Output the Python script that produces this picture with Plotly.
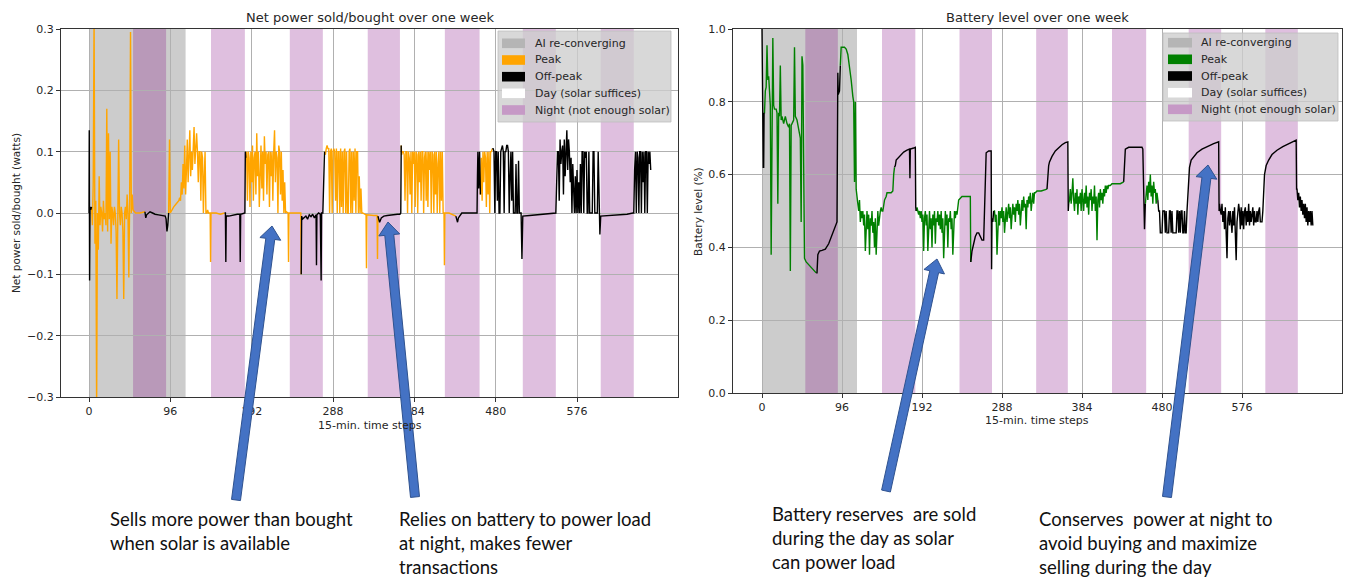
import math
import plotly.graph_objects as go

W, H = 1348, 580

# ------------------------------------------------------------------ data
TICK_STEPS = [0, 96, 192, 288, 384, 480, 576]
POWER_TICKS = [-0.3, -0.2, -0.1, 0.0, 0.1, 0.2, 0.3]
BATTERY_TICKS = [0.0, 0.2, 0.4, 0.6, 0.8, 1.0]

AI_PERIOD = (0, 114)
NIGHT_START = [52, 144, 237, 329, 420, 512, 604]
NIGHT_END = [91, 184, 276, 367, 461, 551, 643]

LEGEND_LABELS = ["AI re-converging", "Peak", "Off-peak", "Day (solar suffices)", "Night (not enough solar)"]


def run(start, vals):
    """values read at consecutive 15-min steps starting at `start`"""
    return list(range(start, start + len(vals))), vals


# ---- net power sold/bought (watts)
P01 = ([0, 0.3, 0.7, 1.2, 2, 3], [0.0, 0.135, -0.11, 0.01, 0.005, 0.01])
P02 = run(4, [-0.02, 0.05, 0.32, -0.05, 0.02, -0.32, 0.0, -0.06, 0.06, -0.02, 0.01, 0.0, -0.03, 0.02, -0.01,
              0.0, -0.02, 0.17, -0.03, 0.13, -0.01, 0.1, -0.05, 0.01, 0.0, -0.02, 0.01, 0.0, -0.03, -0.14,
              0.0, 0.12, 0.0, -0.02, 0.01, 0.0, -0.03, -0.14, 0.0, 0.01, -0.01, 0.03, 0.0, -0.105, 0.02,
              0.295, 0.0, 0.03, 0.005])
P03 = ([55, 60, 66], [0.0, 0.0, 0.002])
P04 = ([67, 68, 70, 72, 75, 78, 82, 86, 90, 91, 92, 93, 94],
       [-0.008, -0.003, 0.0, 0.002, 0.0, -0.002, -0.003, -0.004, -0.005, -0.01, -0.03, -0.02, 0.0])
P05 = ([95, 96, 98, 100, 103, 106, 107], [0.12, 0.0, 0.005, 0.01, 0.015, 0.02, 0.025])
P06 = run(108, [0.02, 0.05, 0.03, 0.08, 0.04, 0.11, 0.03, 0.07, 0.12, 0.05, 0.09, 0.135, 0.06, 0.1, 0.07,
                0.11, 0.14, 0.08, 0.1, 0.13, 0.1, 0.05, 0.1, 0.1, 0.02, 0.1, 0.09, 0.0, 0.06, 0.1, 0.0,
                0.0, 0.005])
P07 = ([141, 143, 143.5, 144, 150, 155, 160], [0.0, 0.0, -0.08, 0.0, 0.0, -0.002, 0.0])
P08 = ([161, 161.5, 162, 165, 170, 175, 178, 178.5, 179, 183, 184, 184.5, 185],
       [0.0, -0.08, -0.005, -0.005, -0.003, -0.002, -0.002, -0.08, -0.002, 0.0, 0.0, 0.1, 0.09])
P09 = run(186, [0.1, 0.02, 0.1, 0.09, 0.01, 0.1, 0.05, 0.11, 0.02, 0.09, 0.1, 0.03, 0.13, 0.06, 0.1, 0.01,
                0.09, 0.11, 0.04, 0.1, 0.02, 0.125, 0.08, 0.1, 0.03, 0.095, 0.1, 0.01, 0.1, 0.06, 0.1,
                0.02, 0.1, 0.135, 0.05, 0.1, 0.09, 0.0, 0.11, 0.1, 0.03, 0.1, 0.02, 0.07, 0.0, 0.05, 0.0,
                0.002])
P10 = ([235, 235.5, 236, 244, 250, 250.5], [0.0, -0.08, 0.0, 0.0, 0.0, -0.1])
P11 = ([251, 252, 254, 256, 258, 260, 262, 264, 266, 268, 268.5, 269, 271, 273, 274, 274.5, 276, 277, 278],
       [-0.005, -0.01, -0.008, -0.005, -0.01, -0.003, -0.006, -0.002, -0.008, -0.003, -0.085, -0.003,
        0.0, -0.002, -0.11, 0.0, 0.0, 0.05, 0.1])
P12 = run(279, [0.095, 0.105, 0.11, 0.105, 0.105, 0.0, 0.1, 0.105, 0.0, 0.1, 0.105, 0.1, 0.02, 0.105, 0.0,
                0.1, 0.1, 0.0, 0.105, 0.01, 0.1, 0.0, 0.1, 0.105, 0.0, 0.1, 0.0, 0.0, 0.1, 0.105, 0.0,
                0.1, 0.0, 0.1, 0.02, 0.105, 0.0, 0.1, 0.1, 0.0, 0.06, 0.0, 0.04, 0.0])
P13 = ([323, 327, 327.5, 328, 332, 336, 340, 340.5, 341],
       [0.0, -0.003, -0.09, -0.003, -0.004, -0.004, -0.004, -0.075, -0.005])
P14 = ([342, 343, 345, 348, 352, 356, 360, 364, 367, 368, 368.5],
       [-0.01, -0.015, -0.008, -0.005, -0.004, -0.003, -0.003, -0.002, -0.002, 0.0, 0.11])
P15 = run(369, [0.095, 0.1, 0.1, 0.095, 0.02, 0.1, 0.1, 0.0, 0.1, 0.09, 0.03, 0.1, 0.0, 0.1, 0.08, 0.1,
                0.01, 0.1, 0.095, 0.0, 0.1, 0.05, 0.1, 0.02, 0.1, 0.1, 0.0, 0.09, 0.1, 0.02, 0.1, 0.01,
                0.1, 0.07, 0.1, 0.0, 0.1, 0.095, 0.0, 0.1, 0.03, 0.1, 0.0, 0.08, 0.1, 0.0, 0.1, 0.02,
                0.1, 0.0, 0.0])
P16 = ([419.5, 420, 425, 430, 433], [-0.085, 0.0, 0.0, -0.003, -0.005])
P17 = ([434, 435, 436, 438, 440, 445, 450, 455, 458, 458.5, 459, 460, 461, 462],
       [-0.01, -0.015, -0.008, -0.003, 0.0, 0.0, 0.0, 0.0, 0.0, 0.06, 0.1, 0.04, 0.1, 0.03])
P18 = run(463, [0.09, 0.02, 0.1, 0.05, 0.1, 0.09, 0.01, 0.1, 0.03, 0.1, 0.0, 0.1, 0.1, 0.105])
P19 = run(477, [0.105, 0.1, 0.0, 0.1, 0.1, 0.02, 0.1, 0.0, 0.0, 0.1, 0.105, 0.11, 0.1, 0.0, 0.1, 0.1, 0.11,
                0.11, 0.1, 0.0, 0.06, 0.1, 0.02, 0.1, 0.0, 0.0, 0.0, 0.08, 0.0, 0.0, 0.085, 0.0, 0.0, 0.0,
                -0.075, -0.005])
P20 = ([520, 530, 540, 548, 551, 552], [-0.004, -0.003, -0.002, -0.001, 0.0, 0.05])
P21 = run(553, [0.1, 0.1, 0.02, 0.12, 0.08, 0.1, 0.11, 0.03, 0.12, 0.06, 0.1, 0.135, 0.07, 0.12, 0.1, 0.05,
                0.09, 0.0, 0.08, 0.03, 0.0, 0.06, 0.0, 0.07, 0.0, 0.05, 0.0, 0.08, 0.0, 0.1, 0.1, 0.0,
                0.1, 0.09, 0.1, 0.0, 0.0, 0.1, 0.0, 0.0, 0.0, 0.0, 0.1, 0.1, 0.0, 0.0, 0.0, 0.0, 0.1,
                0.0, -0.035, -0.005])
P22 = ([615, 625, 635, 642, 643], [-0.004, -0.003, -0.002, 0.0, 0.0])
P23 = run(644, [0.07, 0.1, 0.0, 0.1, 0.09, 0.0, 0.1, 0.1, 0.0, 0.1, 0.05, 0.1, 0.0, 0.1, 0.1, 0.0, 0.1,
                0.08, 0.1, 0.07])

POWER_PEAK = [P02, P03, P05, P06, P07, P09, P10, P12, P13, P15, P16, P18]
POWER_ALL = [P01, P02, P03, P04, P05, P06, P07, P08, P09, P10, P11, P12, P13, P14, P15, P16, P17, P18,
             P19, P20, P21, P22, P23]

# ---- battery level (fraction)
B01 = ([0, 0.5, 1, 1.5, 2, 2.5], [1.0, 0.77, 0.77, 0.62, 0.62, 0.77])
B02 = ([3, 4, 5, 6, 7, 8, 9, 10, 11, 12, 13, 14, 15, 17, 18, 19, 20, 21, 22, 23, 24, 26, 28, 30, 32, 33,
        34, 35, 36, 38, 39, 40, 42, 44, 46, 47, 48, 49, 50, 51, 53, 55, 58, 61, 63, 65],
       [0.77, 0.83, 0.84, 0.955, 0.86, 0.87, 0.8, 0.79, 0.38, 0.8, 0.975, 0.79, 0.78, 0.78, 0.77, 0.52,
        0.77, 0.76, 0.9, 0.75, 0.76, 0.74, 0.76, 0.74, 0.73, 0.74, 0.335, 0.735, 0.74, 0.75, 0.95, 0.76,
        0.75, 0.72, 0.7, 0.47, 0.925, 0.9, 0.7, 0.37, 0.36, 0.355, 0.345, 0.34, 0.335, 0.33])
B03 = ([66, 67, 69, 72, 76, 80, 85, 90, 91, 91.5, 93, 94],
       [0.33, 0.38, 0.39, 0.392, 0.395, 0.41, 0.44, 0.47, 0.88, 0.82, 0.83, 0.9])
B04 = ([95, 99, 101, 103, 105, 107, 109, 110, 111, 112, 113, 114],
       [0.95, 0.95, 0.945, 0.93, 0.9, 0.86, 0.815, 0.8, 0.58, 0.8, 0.56, 0.53])
B05 = run(115, [0.52, 0.5, 0.53, 0.47, 0.5, 0.48, 0.5, 0.46, 0.49, 0.39, 0.47, 0.5, 0.45, 0.49, 0.38, 0.48,
                0.46, 0.5, 0.44, 0.47, 0.4, 0.48, 0.38, 0.47, 0.5, 0.46, 0.49, 0.5, 0.51, 0.5])
B06 = ([145, 147, 149, 150, 155, 157, 158, 159], [0.5, 0.53, 0.54, 0.55, 0.55, 0.555, 0.6, 0.62])
B07 = ([160, 161, 163, 166, 170, 174, 177, 177.5, 178, 182, 184, 184.5, 185],
       [0.625, 0.64, 0.645, 0.655, 0.662, 0.667, 0.67, 0.59, 0.67, 0.673, 0.675, 0.51, 0.5])
B08 = run(186, [0.51, 0.5, 0.49, 0.5, 0.48, 0.5, 0.47, 0.49, 0.39, 0.48, 0.5, 0.46, 0.49, 0.39, 0.47, 0.5,
                0.45, 0.48, 0.4, 0.49, 0.46, 0.5, 0.41, 0.48, 0.47, 0.5, 0.46, 0.49, 0.45, 0.5, 0.44, 0.48,
                0.37, 0.47, 0.5, 0.46, 0.49, 0.4, 0.48, 0.47, 0.5, 0.45, 0.48, 0.38, 0.47, 0.5, 0.48, 0.5,
                0.49])
B09 = ([235, 236, 240, 245, 250, 250.5], [0.52, 0.53, 0.54, 0.54, 0.54, 0.36])
B10 = ([251, 252, 254, 256, 258, 260, 262, 264, 266, 267, 268, 269, 272, 275, 275.5, 276, 277, 278],
       [0.37, 0.39, 0.41, 0.43, 0.44, 0.44, 0.43, 0.42, 0.42, 0.5, 0.64, 0.66, 0.665, 0.665, 0.34, 0.48,
        0.47, 0.5])
B11 = run(279, [0.5, 0.47, 0.49, 0.38, 0.48, 0.5, 0.46, 0.5, 0.48, 0.51, 0.47, 0.5, 0.44, 0.49, 0.51, 0.47,
                0.5, 0.52, 0.48, 0.51, 0.45, 0.5, 0.52, 0.49, 0.51, 0.47, 0.52, 0.5, 0.53, 0.49, 0.52,
                0.46, 0.51, 0.53, 0.5, 0.54, 0.51, 0.52, 0.45, 0.53, 0.51, 0.54, 0.52, 0.55, 0.5, 0.53,
                0.55, 0.52, 0.55])
B12 = ([328, 330, 335, 340, 342], [0.55, 0.555, 0.555, 0.56, 0.56])
B13 = ([343, 344, 345, 348, 352, 356, 360, 364, 366, 367, 367.5, 368],
       [0.6, 0.625, 0.635, 0.65, 0.665, 0.675, 0.682, 0.688, 0.69, 0.69, 0.5, 0.52])
B14 = run(369, [0.53, 0.56, 0.52, 0.55, 0.59, 0.53, 0.5, 0.55, 0.52, 0.56, 0.49, 0.54, 0.52, 0.55, 0.5,
                0.56, 0.53, 0.5, 0.55, 0.52, 0.57, 0.51, 0.54, 0.49, 0.55, 0.53, 0.56, 0.5, 0.54, 0.52,
                0.57, 0.5, 0.54, 0.42, 0.53, 0.55, 0.51, 0.56, 0.53, 0.55, 0.52, 0.56, 0.54, 0.57, 0.55,
                0.57, 0.56, 0.57, 0.57])
B15 = ([418, 420, 425, 430, 434], [0.57, 0.575, 0.575, 0.575, 0.58])
B16 = ([435, 436, 440, 450, 456, 457, 458, 459, 460], [0.65, 0.67, 0.675, 0.675, 0.675, 0.67, 0.5, 0.45, 0.52])
B17 = run(461, [0.55, 0.57, 0.53, 0.58, 0.55, 0.6, 0.54, 0.57, 0.52, 0.58, 0.55, 0.56, 0.52, 0.55, 0.53])
B18 = run(476, [0.5, 0.5, 0.44, 0.44, 0.44, 0.5, 0.5, 0.5, 0.44, 0.5, 0.44, 0.44, 0.44, 0.5, 0.5, 0.44, 0.5,
                0.44, 0.44, 0.44, 0.44, 0.44, 0.5, 0.5, 0.44, 0.5, 0.44, 0.5, 0.5, 0.44, 0.44, 0.5, 0.44,
                0.44, 0.5, 0.55])
B19 = ([512, 513, 515, 518, 522, 528, 535, 542, 548, 548.5],
       [0.6, 0.62, 0.64, 0.65, 0.66, 0.67, 0.678, 0.685, 0.69, 0.5])
B20 = run(549, [0.52, 0.5, 0.49, 0.52, 0.47, 0.5, 0.45, 0.51, 0.44, 0.37, 0.48, 0.5, 0.46, 0.5, 0.47, 0.44,
                0.5, 0.46, 0.51, 0.44, 0.365, 0.47, 0.5, 0.52, 0.5, 0.45, 0.51, 0.46, 0.5, 0.45, 0.5, 0.51,
                0.46, 0.5, 0.47, 0.52, 0.46, 0.5, 0.47, 0.5, 0.51, 0.46, 0.5, 0.47, 0.47, 0.5, 0.47, 0.5,
                0.51, 0.47, 0.47, 0.47, 0.5])
B21 = ([602, 603, 605, 608, 612, 618, 625, 632, 638, 641, 641.5],
       [0.55, 0.6, 0.625, 0.64, 0.655, 0.667, 0.677, 0.685, 0.69, 0.695, 0.56])
B22 = run(642, [0.56, 0.53, 0.55, 0.51, 0.54, 0.5, 0.53, 0.49, 0.52, 0.48, 0.52, 0.47, 0.51, 0.46, 0.5, 0.47,
                0.5, 0.46, 0.5, 0.46])

BATTERY_PEAK = [B02, B04, B05, B06, B08, B09, B11, B12, B14, B15, B17]
BATTERY_ALL = [B01, B02, B03, B04, B05, B06, B07, B08, B09, B10, B11, B12, B13, B14, B15, B16, B17, B18,
               B19, B20, B21, B22]

# ------------------------------------------------------------------ style
GRAY_BAND = "rgba(128,128,128,0.40)"
NIGHT_BAND = "rgba(128,0,128,0.25)"
ORANGE = "#FFA500"
GREEN = "#008000"
BLACK = "#000000"
TXT = "#262626"
MPL_FONT = "DejaVu Sans"


def px(x):
    return x / W


def py(y):
    return 1 - y / H


def split(all_chunks, peak_chunks):
    """two line traces (peak/off-peak) that join at colour changes"""
    out = {True: ([], []), False: ([], [])}
    prev_kind, prev_pt = None, None
    for ch in all_chunks:
        kind = any(ch is p for p in peak_chunks)
        xs, ys = out[kind]
        if prev_kind is not None and prev_kind != kind:
            if xs:
                xs.append(None)
                ys.append(None)
            xs.append(prev_pt[0])
            ys.append(prev_pt[1])
        xs.extend(ch[0])
        ys.extend(ch[1])
        prev_kind, prev_pt = kind, (ch[0][-1], ch[1][-1])
    return out


fig = go.Figure()

pw = split(POWER_ALL, POWER_PEAK)
bt = split(BATTERY_ALL, BATTERY_PEAK)
line_w = 1.4
fig.add_trace(go.Scatter(x=pw[True][0], y=pw[True][1], mode="lines", line=dict(color=ORANGE, width=line_w),
                         xaxis="x", yaxis="y", showlegend=False, hoverinfo="skip"))
fig.add_trace(go.Scatter(x=pw[False][0], y=pw[False][1], mode="lines", line=dict(color=BLACK, width=line_w),
                         xaxis="x", yaxis="y", showlegend=False, hoverinfo="skip"))
fig.add_trace(go.Scatter(x=bt[True][0], y=bt[True][1], mode="lines", line=dict(color=GREEN, width=line_w),
                         xaxis="x2", yaxis="y2", showlegend=False, hoverinfo="skip"))
fig.add_trace(go.Scatter(x=bt[False][0], y=bt[False][1], mode="lines", line=dict(color=BLACK, width=line_w),
                         xaxis="x2", yaxis="y2", showlegend=False, hoverinfo="skip"))

shapes = []
for xr, yr in (("x", "y domain"), ("x2", "y2 domain")):
    shapes.append(dict(type="rect", xref=xr, yref=yr, x0=AI_PERIOD[0], x1=AI_PERIOD[1], y0=0, y1=1,
                       fillcolor=GRAY_BAND, line=dict(width=0), layer="below"))
    for s, e in zip(NIGHT_START, NIGHT_END):
        shapes.append(dict(type="rect", xref=xr, yref=yr, x0=s, x1=e, y0=0, y1=1,
                           fillcolor=NIGHT_BAND, line=dict(width=0), layer="below"))

annotations = []


def fmt(v):
    return f"{v:.1f}".replace("-", "\u2212")


def axis_common():
    return dict(showgrid=True, gridcolor="#b0b0b0", gridwidth=0.8, zeroline=False, showline=True,
                linecolor="#333333", linewidth=1, mirror=True, ticks="outside", ticklen=4,
                tickcolor="#333333", automargin=False,
                tickfont=dict(family=MPL_FONT, size=11, color=TXT))


# Legends drawn as patch + text
def legend(x0, x1, y0, y1, patch_x0, patch_x1, text_x, rows, colors):
    shapes.append(dict(type="rect", xref="paper", yref="paper", x0=px(x0), x1=px(x1), y0=py(y1), y1=py(y0),
                       fillcolor="rgba(205,205,205,0.78)", line=dict(color="rgba(190,190,190,0.8)", width=1),
                       layer="above"))
    for ry, col, lab in zip(rows, colors, LEGEND_LABELS):
        shapes.append(dict(type="rect", xref="paper", yref="paper", x0=px(patch_x0), x1=px(patch_x1),
                           y0=py(ry + 4.8), y1=py(ry - 4.8), fillcolor=col, line=dict(width=0), layer="above"))
        annotations.append(dict(x=px(text_x), y=py(ry), xref="paper", yref="paper", text=lab, showarrow=False,
                                xanchor="left", yanchor="middle",
                                font=dict(family=MPL_FONT, size=11, color=TXT)))


legend(498, 671, 31, 122, 502, 525, 533, [43.3, 60.0, 76.7, 93.3, 110.0],
       ["#b5b5b5", ORANGE, BLACK, "#ffffff", "#c699c6"])
legend(1163, 1338, 33, 121, 1168, 1192, 1199, [42.7, 59.3, 76.0, 92.7, 109.3],
       ["#b5b5b5", GREEN, BLACK, "#ffffff", "#c699c6"])

# titles / axis labels
for text, x, y, ang, size in [
    ("Net power sold/bought over one week", 369.5, 17, 0, 13),
    ("Battery level over one week", 1037.5, 17, 0, 13),
    ("15-min. time steps", 370, 425, 0, 11),
    ("15-min. time steps", 1037, 420, 0, 11),
    ("Net power sold/bought (watts)", 16, 213, -90, 10.5),
    ("Battery level (%)", 698, 211, -90, 10.5),
]:
    annotations.append(dict(x=px(x), y=py(y), xref="paper", yref="paper", text=text, showarrow=False,
                            xanchor="center", yanchor="middle", textangle=ang,
                            font=dict(family=MPL_FONT, size=size, color=TXT)))


# Callout arrows (block arrows)
def arrow_path(x0, y0, x1, y1, shaft=9.0, head_w=21.0, head_l=13.0):
    dx, dy = x1 - x0, y1 - y0
    L = math.hypot(dx, dy)
    ux, uy = dx / L, dy / L
    nx, ny = -uy, ux
    bx, by = x1 - ux * head_l, y1 - uy * head_l
    pts = [(x0 + nx * shaft / 2, y0 + ny * shaft / 2), (bx + nx * shaft / 2, by + ny * shaft / 2),
           (bx + nx * head_w / 2, by + ny * head_w / 2), (x1, y1),
           (bx - nx * head_w / 2, by - ny * head_w / 2), (bx - nx * shaft / 2, by - ny * shaft / 2),
           (x0 - nx * shaft / 2, y0 - ny * shaft / 2)]
    return "M " + " L ".join(f"{px(a):.5f},{py(b):.5f}" for a, b in pts) + " Z"


for (x0, y0, x1, y1) in [(236, 500, 272, 226), (415, 497, 388, 222), (886, 491, 937, 259),
                         (1167, 497, 1208, 165)]:
    shapes.append(dict(type="path", xref="paper", yref="paper", path=arrow_path(x0, y0, x1, y1),
                       fillcolor="#4472C4", line=dict(color="#2F528F", width=1), layer="above"))

CALLOUTS = [
    ("Sells more power than bought<br>when solar is available", 108, 531),
    ("Relies on battery to power load<br>at night, makes fewer<br>transactions", 397, 542.5),
    ("Battery reserves  are sold<br>during the day as solar<br>can power load", 770, 538),
    ("Conserves  power at night to<br>avoid buying and maximize<br>selling during the day", 1037, 542.5),
]
for text, x, y in CALLOUTS:
    annotations.append(dict(x=px(x), y=py(y), xref="paper", yref="paper", text=text, showarrow=False,
                            xanchor="left", yanchor="middle", align="left",
                            font=dict(family="Lato", size=18.5, color="#111111")))

fig.update_layout(
    width=W, height=H, autosize=False, margin=dict(l=0, r=0, t=0, b=0, pad=0, autoexpand=False),
    paper_bgcolor="white", plot_bgcolor="white", showlegend=False,
    xaxis=dict(domain=[px(61), px(678)], range=[-33.05, 695.2], tickvals=TICK_STEPS,
               ticktext=[str(t) for t in TICK_STEPS], anchor="y", **axis_common()),
    yaxis=dict(domain=[py(397), py(29)], range=[-0.3, 0.3], tickvals=POWER_TICKS,
               ticktext=[fmt(v) for v in POWER_TICKS], anchor="x", **axis_common()),
    xaxis2=dict(domain=[px(733), px(1342)], range=[-34.8, 696], tickvals=TICK_STEPS,
                ticktext=[str(t) for t in TICK_STEPS], anchor="y2", **axis_common()),
    yaxis2=dict(domain=[py(393), py(29)], range=[0, 1.0], tickvals=BATTERY_TICKS,
                ticktext=[fmt(v) for v in BATTERY_TICKS], anchor="x2", **axis_common()),
    shapes=shapes, annotations=annotations,
)

fig.write_html("out.html", config={"displayModeBar": False, "responsive": False},
               post_script="document.body.style.margin='0';document.body.style.overflow='hidden';")
